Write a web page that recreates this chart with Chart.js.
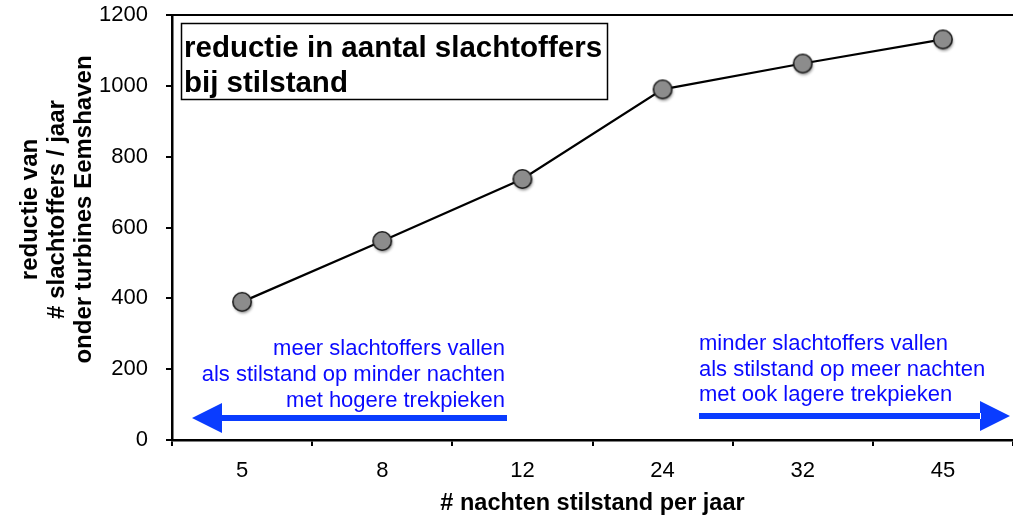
<!DOCTYPE html>
<html>
<head>
<meta charset="utf-8">
<script src="https://cdn.jsdelivr.net/npm/chart.js@4/dist/chart.umd.min.js"></script>
<style>
	html, body { margin: 0; padding: 0; background: #fff; }
	#wrap { width: 1013px; height: 524px; }
</style>
</head>
<body>
<div id="wrap"><canvas id="chart" width="1013" height="524"></canvas></div>
<script>
// data
const nights = ["5", "8", "12", "24", "32", "45"];
const reduction = [390, 562, 737, 990, 1063, 1131];
const yTicks = [0, 200, 400, 600, 800, 1000, 1200];

const titleLines = ["reductie in aantal slachtoffers", "bij stilstand"];
const yTitleLines = ["reductie van", "# slachtoffers / jaar", "onder turbines Eemshaven"];
const xTitle = "# nachten stilstand per jaar";
const leftNote = ["meer slachtoffers vallen", "als stilstand op minder nachten", "met hogere trekpieken"];
const rightNote = ["minder slachtoffers vallen", "als stilstand op meer nachten", "met ook lagere trekpieken"];

const FONT = "'Liberation Sans', Arial, Helvetica, sans-serif";
const BLUE_TEXT = "#0a0aff";
const BLUE_ARROW = "#0a3cff";

// gray dot with a soft shadow, used as point style
function makeDot() {
	const c = document.createElement("canvas");
	c.width = 28; c.height = 28;
	const g = c.getContext("2d");
	g.shadowColor = "rgba(0,0,0,0.45)";
	g.shadowBlur = 3;
	g.shadowOffsetX = 1;
	g.shadowOffsetY = 2;
	g.beginPath();
	g.arc(14, 14, 9.2, 0, Math.PI * 2);
	g.fillStyle = "#8c8c8c";
	g.fill();
	g.shadowColor = "transparent";
	g.lineWidth = 1.6;
	g.strokeStyle = "#1c1c1c";
	g.stroke();
	return c;
}

function arrow(ctx, x0, x1, y, dir) {
	// dir -1 : head on the left, +1 : head on the right
	const headLen = 30, headHalf = 15, shaft = 6;
	ctx.fillStyle = BLUE_ARROW;
	ctx.beginPath();
	if (dir < 0) {
		ctx.rect(x0 + headLen - 1, y - shaft / 2, x1 - x0 - headLen + 1, shaft);
		ctx.moveTo(x0, y);
		ctx.lineTo(x0 + headLen, y - headHalf);
		ctx.lineTo(x0 + headLen, y + headHalf);
	} else {
		ctx.rect(x0, y - shaft / 2, x1 - x0 - headLen + 1, shaft);
		ctx.moveTo(x1, y);
		ctx.lineTo(x1 - headLen, y - headHalf);
		ctx.lineTo(x1 - headLen, y + headHalf);
	}
	ctx.closePath();
	ctx.fill();
}

const decorations = {
	id: "decorations",
	afterDraw(chart) {
		const ctx = chart.ctx;
		const a = chart.chartArea;
		ctx.save();

		// top frame line
		ctx.strokeStyle = "#000";
		ctx.lineWidth = 2;
		ctx.beginPath();
		ctx.moveTo(a.left, a.top);
		ctx.lineTo(chart.width, a.top);
		ctx.stroke();

		// title box
		const bx = a.left + 9, by = a.top + 8;
		ctx.lineWidth = 1.5;
		ctx.strokeRect(bx + 0.5, by + 0.5, 426, 76);
		ctx.fillStyle = "#000";
		ctx.font = "bold 29.5px " + FONT;
		ctx.textAlign = "left";
		ctx.textBaseline = "alphabetic";
		titleLines.forEach((t, i) => ctx.fillText(t, bx + 3, by + 34 + i * 35));

		// y axis title (three rotated lines)
		ctx.save();
		ctx.font = "bold 24px " + FONT;
		ctx.textAlign = "center";
		ctx.textBaseline = "middle";
		const cy = (a.top + a.bottom) / 2 - 18;
		yTitleLines.forEach((t, i) => {
			ctx.save();
			ctx.translate(30 + i * 27, cy);
			ctx.rotate(-Math.PI / 2);
			ctx.fillText(t, 0, 0);
			ctx.restore();
		});
		ctx.restore();

		// notes
		ctx.font = "22px " + FONT;
		ctx.fillStyle = BLUE_TEXT;
		ctx.textAlign = "right";
		leftNote.forEach((t, i) => ctx.fillText(t, a.left + 333, a.bottom - 85 + i * 26));
		ctx.textAlign = "left";
		rightNote.forEach((t, i) => ctx.fillText(t, a.left + 527, a.bottom - 90 + i * 25.5));

		arrow(ctx, a.left + 20, a.left + 335, a.bottom - 22, -1);
		arrow(ctx, a.left + 527, a.right - 3, a.bottom - 24, 1);

		ctx.restore();
	}
};

new Chart(document.getElementById("chart"), {
	type: "line",
	data: {
		labels: nights,
		datasets: [{
			data: reduction,
			borderColor: "#000",
			borderWidth: 2.2,
			tension: 0,
			pointStyle: makeDot(),
			pointRadius: 10,
			pointHoverRadius: 10,
			clip: false
		}]
	},
	options: {
		responsive: false,
		animation: false,
		events: [],
		layout: { autoPadding: false, padding: { top: 15, right: 0, bottom: 0, left: 0 } },
		plugins: {
			legend: { display: false },
			tooltip: { enabled: false }
		},
		scales: {
			x: {
				type: "category",
				offset: true,
				grid: {
					offset: true,
					drawOnChartArea: false,
					drawTicks: true,
					tickLength: 6,
					color: "#000",
					lineWidth: 2
				},
				border: { display: true, color: "#000", width: 2.5 },
				ticks: {
					color: "#000",
					font: { family: FONT, size: 22 },
					padding: 12
				},
				title: {
					display: true,
					text: xTitle,
					color: "#000",
					font: { family: FONT, size: 23.5, weight: "bold" },
					padding: { top: 0, bottom: 6 }
				},
				afterFit(scale) {
					scale.height = 84;
					scale.paddingLeft = 0;
					scale.paddingRight = 0;
				}
			},
			y: {
				min: 0,
				max: 1200,
				afterBuildTicks(scale) { scale.ticks = yTicks.map(v => ({ value: v })); },
				grid: {
					drawOnChartArea: false,
					drawTicks: true,
					tickLength: 6,
					color: "#000",
					lineWidth: 2
				},
				border: { display: true, color: "#000", width: 2.5 },
				ticks: {
					color: "#000",
					font: { family: FONT, size: 22 },
					padding: 18,
					callback: v => String(v)
				},
				afterFit(scale) {
					scale.width = 172;
					scale.paddingTop = 0;
					scale.paddingBottom = 0;
				}
			}
		}
	},
	plugins: [decorations]
});
</script>
</body>
</html>
